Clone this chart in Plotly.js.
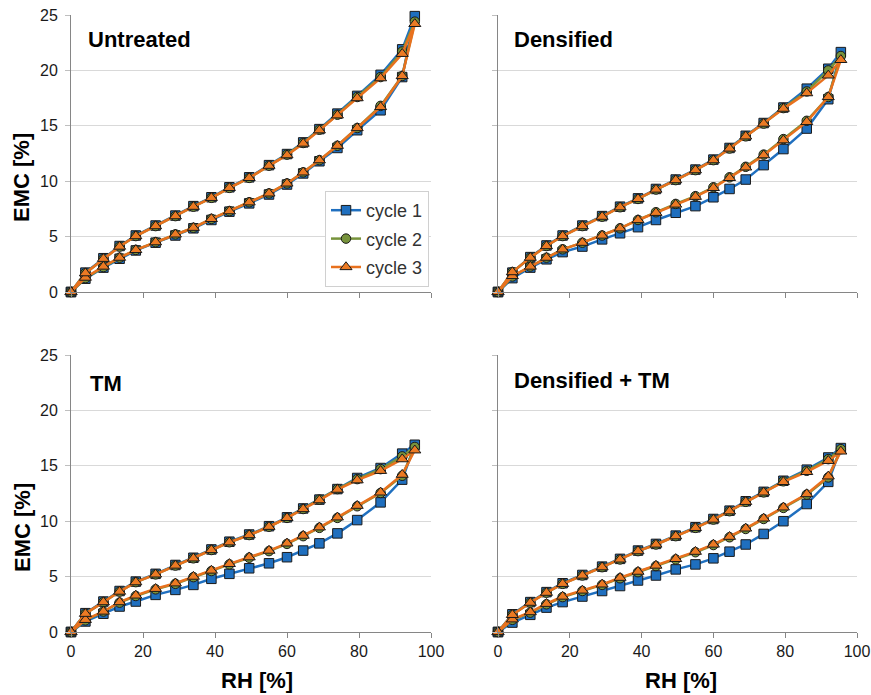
<!DOCTYPE html>
<html>
<head>
<meta charset="utf-8">
<script src="https://cdn.plot.ly/plotly-3.0.1.min.js"></script>
<style>html,body{margin:0;padding:0;background:#fff;}#chart{width:871px;height:695px;}</style>
</head>
<body>
<div id="chart"></div>
<script>
// Relative humidity steps: adsorption (0 -> 95.5) then desorption (92 -> 0)
var rhAds = [0, 4, 9, 13.5, 18, 23.5, 29, 34, 39, 44, 49.5, 55, 60, 64.5, 69, 74, 79.5, 86, 92, 95.5];
var rhDes = [92, 86, 79.5, 74, 69, 64.5, 60, 55, 49.5, 44, 39, 34, 29, 23.5, 18, 13.5, 9, 4, 0];

var cycles = ["cycle 1", "cycle 2", "cycle 3"];
var panels = ["Untreated", "Densified", "TM", "Densified + TM"];
var xTicks = [0, 20, 40, 60, 80, 100];
var yTicks = [0, 5, 10, 15, 20, 25];

// Untreated
var untreatedC1Ads = [0, 1.2, 2.2, 3.0, 3.75, 4.45, 5.1, 5.75, 6.5, 7.25, 8.0, 8.8, 9.7, 10.7, 11.8, 13.0, 14.6, 16.4, 19.4, 24.9];
var untreatedC1Des = [21.9, 19.6, 17.7, 16.1, 14.7, 13.5, 12.45, 11.45, 10.35, 9.45, 8.55, 7.75, 6.9, 6.0, 5.1, 4.15, 3.05, 1.75, 0];
var untreatedC2Ads = [0, 1.25, 2.25, 3.1, 3.8, 4.5, 5.2, 5.8, 6.6, 7.3, 8.1, 8.9, 9.8, 10.8, 11.9, 13.2, 14.8, 16.8, 19.5, 24.4];
var untreatedC2Des = [21.7, 19.4, 17.6, 16.0, 14.65, 13.45, 12.4, 11.4, 10.3, 9.4, 8.5, 7.7, 6.85, 5.95, 5.05, 4.1, 3.0, 1.7, 0];
var untreatedC3Ads = [0, 1.3, 2.3, 3.1, 3.8, 4.5, 5.2, 5.8, 6.6, 7.3, 8.1, 8.9, 9.8, 10.8, 11.9, 13.2, 14.8, 16.7, 19.5, 24.2];
var untreatedC3Des = [21.5, 19.3, 17.5, 15.95, 14.6, 13.4, 12.35, 11.4, 10.3, 9.4, 8.5, 7.7, 6.85, 5.95, 5.05, 4.1, 3.0, 1.7, 0];

// Densified
var densifiedC1Ads = [0, 1.25, 2.2, 2.95, 3.6, 4.1, 4.75, 5.3, 5.85, 6.5, 7.15, 7.75, 8.55, 9.3, 10.15, 11.45, 12.9, 14.75, 17.4, 21.65];
var densifiedC1Des = [20.15, 18.35, 16.65, 15.25, 14.1, 13.0, 11.95, 11.05, 10.15, 9.3, 8.45, 7.7, 6.85, 6.0, 5.1, 4.2, 3.15, 1.75, 0];
var densifiedC2Ads = [0, 1.4, 2.3, 3.1, 3.85, 4.45, 5.1, 5.75, 6.5, 7.2, 7.95, 8.65, 9.45, 10.35, 11.3, 12.4, 13.8, 15.45, 17.6, 21.3];
var densifiedC2Des = [20.0, 18.1, 16.6, 15.2, 14.05, 12.95, 11.9, 11.0, 10.1, 9.25, 8.4, 7.65, 6.8, 5.95, 5.05, 4.15, 3.1, 1.8, 0];
var densifiedC3Ads = [0, 1.45, 2.3, 3.1, 3.85, 4.45, 5.1, 5.75, 6.5, 7.15, 7.9, 8.6, 9.4, 10.3, 11.25, 12.35, 13.7, 15.35, 17.6, 20.95];
var densifiedC3Des = [19.55, 17.95, 16.55, 15.2, 14.05, 12.95, 11.9, 11.0, 10.1, 9.25, 8.4, 7.65, 6.8, 5.95, 5.05, 4.15, 3.1, 1.8, 0];

// TM
var tmC1Ads = [0, 0.95, 1.65, 2.3, 2.75, 3.35, 3.8, 4.25, 4.8, 5.25, 5.75, 6.2, 6.75, 7.35, 8.0, 8.9, 10.1, 11.7, 13.75, 16.9];
var tmC1Des = [16.1, 14.8, 13.9, 12.9, 11.95, 11.15, 10.35, 9.55, 8.8, 8.15, 7.45, 6.7, 6.05, 5.25, 4.55, 3.7, 2.75, 1.7, 0];
var tmC2Ads = [0, 1.05, 1.85, 2.65, 3.25, 3.85, 4.35, 4.95, 5.5, 6.1, 6.7, 7.3, 7.95, 8.65, 9.4, 10.3, 11.35, 12.55, 14.1, 16.7];
var tmC2Des = [15.85, 14.7, 13.8, 12.9, 11.95, 11.1, 10.3, 9.5, 8.75, 8.1, 7.4, 6.65, 6.0, 5.2, 4.5, 3.65, 2.7, 1.65, 0];
var tmC3Ads = [0, 1.1, 1.85, 2.7, 3.3, 3.9, 4.4, 5.0, 5.55, 6.15, 6.75, 7.35, 8.0, 8.7, 9.45, 10.35, 11.4, 12.6, 14.2, 16.4];
var tmC3Des = [15.6, 14.55, 13.7, 12.85, 11.9, 11.1, 10.3, 9.5, 8.75, 8.1, 7.4, 6.65, 6.0, 5.2, 4.5, 3.65, 2.7, 1.65, 0];

// Densified + TM
var dtmC1Ads = [0, 0.85, 1.55, 2.2, 2.7, 3.2, 3.7, 4.15, 4.65, 5.1, 5.65, 6.1, 6.65, 7.25, 7.9, 8.85, 10.0, 11.55, 13.55, 16.6];
var dtmC1Des = [15.75, 14.65, 13.65, 12.65, 11.8, 10.95, 10.2, 9.45, 8.7, 7.95, 7.35, 6.6, 5.9, 5.15, 4.4, 3.6, 2.7, 1.6, 0];
var dtmC2Ads = [0, 1.1, 1.75, 2.5, 3.15, 3.7, 4.25, 4.85, 5.4, 5.95, 6.55, 7.2, 7.85, 8.55, 9.3, 10.2, 11.2, 12.4, 13.95, 16.5];
var dtmC2Des = [15.6, 14.55, 13.6, 12.6, 11.75, 10.9, 10.15, 9.4, 8.65, 7.9, 7.3, 6.55, 5.85, 5.1, 4.35, 3.55, 2.65, 1.55, 0];
var dtmC3Ads = [0, 1.15, 1.8, 2.55, 3.2, 3.75, 4.3, 4.9, 5.45, 6.0, 6.6, 7.25, 7.9, 8.6, 9.35, 10.25, 11.25, 12.45, 14.05, 16.3];
var dtmC3Des = [15.45, 14.45, 13.55, 12.6, 11.75, 10.9, 10.15, 9.4, 8.65, 7.9, 7.3, 6.55, 5.85, 5.1, 4.35, 3.55, 2.65, 1.55, 0];

var panelData = [
  [[untreatedC1Ads, untreatedC1Des], [untreatedC2Ads, untreatedC2Des], [untreatedC3Ads, untreatedC3Des]],
  [[densifiedC1Ads, densifiedC1Des], [densifiedC2Ads, densifiedC2Des], [densifiedC3Ads, densifiedC3Des]],
  [[tmC1Ads, tmC1Des], [tmC2Ads, tmC2Des], [tmC3Ads, tmC3Des]],
  [[dtmC1Ads, dtmC1Des], [dtmC2Ads, dtmC2Des], [dtmC3Ads, dtmC3Des]]
];

var lineColors = ["#1f6fbf", "#77933c", "#e8711e"];
var fillColors = ["#1f6fbf", "#77933c", "#ec7a23"];
var symbols = ["square", "circle", "triangle-up"];
var sizes = [9.5, 9.5, 10.5];

var rhPath = rhAds.concat(rhDes);
var traces = [];
for (var p = 0; p < 4; p++) {
  for (var c = 0; c < 3; c++) {
    var ax = p === 0 ? "" : String(p + 1);
    traces.push({
      type: "scatter",
      mode: "lines+markers",
      name: cycles[c],
      legendgroup: cycles[c],
      showlegend: p === 0,
      x: rhPath,
      y: panelData[p][c][0].concat(panelData[p][c][1]),
      xaxis: "x" + ax,
      yaxis: "y" + ax,
      cliponaxis: false,
      line: {color: lineColors[c], width: 2.5},
      marker: {symbol: symbols[c], size: sizes[c], color: fillColors[c], line: {color: "#1a1a1a", width: 1}}
    });
  }
}

var W = 871, H = 695;
var colX = [[71 / W, 431 / W], [498 / W, 857 / W]];
var rowY = [[1 - 292 / H, 1 - 15 / H], [1 - 632 / H, 1 - 355 / H]];

function xAxis(anchor, dom, showLabels) {
  return {
    domain: dom, anchor: anchor, range: [0, 100], tickvals: xTicks, ticktext: xTicks.map(String),
    showticklabels: showLabels, ticks: "outside", ticklen: 5, tickcolor: "#868686", tickwidth: 1,
    showline: true, linecolor: "#868686", linewidth: 1, showgrid: false, zeroline: false,
    tickfont: {family: "Liberation Sans, Arial, sans-serif", size: 16, color: "#1a1a1a"}
  };
}
function yAxis(anchor, dom, showLabels) {
  return {
    domain: dom, anchor: anchor, range: [0, 25], tickvals: yTicks, ticktext: yTicks.map(String),
    showticklabels: showLabels, ticks: "outside", ticklen: 5, tickcolor: "#bfbfbf", tickwidth: 1,
    showline: true, linecolor: "#868686", linewidth: 1, showgrid: true, gridcolor: "#d9d9d9", gridwidth: 1,
    zeroline: false, ticklabelstandoff: 4,
    tickfont: {family: "Liberation Sans, Arial, sans-serif", size: 16, color: "#1a1a1a"}
  };
}

var labelFont = {family: "Liberation Sans, Arial, sans-serif", size: 22, color: "#000", weight: "bold"};
var panelPos = [[86, 40], [512, 40], [88, 383], [512, 380]];
var annotations = [];
for (var i = 0; i < 4; i++) {
  annotations.push({text: panels[i], xref: "paper", yref: "paper", x: panelPos[i][0] / W, y: 1 - panelPos[i][1] / H,
    xanchor: "left", yanchor: "middle", showarrow: false, font: labelFont});
}
annotations.push({text: "EMC [%]", textangle: -90, xref: "paper", yref: "paper", x: 22 / W, y: 1 - 178 / H, xanchor: "center", yanchor: "middle", showarrow: false, font: labelFont});
annotations.push({text: "EMC [%]", textangle: -90, xref: "paper", yref: "paper", x: 22 / W, y: 1 - 528 / H, xanchor: "center", yanchor: "middle", showarrow: false, font: labelFont});
annotations.push({text: "RH [%]", xref: "paper", yref: "paper", x: 257 / W, y: 1 - 680 / H, xanchor: "center", yanchor: "middle", showarrow: false, font: labelFont});
annotations.push({text: "RH [%]", xref: "paper", yref: "paper", x: 681 / W, y: 1 - 680 / H, xanchor: "center", yanchor: "middle", showarrow: false, font: labelFont});

var layout = {
  width: W, height: H,
  margin: {l: 0, r: 0, t: 0, b: 0},
  paper_bgcolor: "#ffffff", plot_bgcolor: "#ffffff",
  font: {family: "Liberation Sans, Arial, sans-serif", color: "#1a1a1a"},
  showlegend: true,
  legend: {x: 325 / W, y: 1 - 191 / H, xanchor: "left", yanchor: "top", bgcolor: "#ffffff",
    bordercolor: "#d0d0d0", borderwidth: 1, font: {size: 18, color: "#333"}, tracegroupgap: 2},
  xaxis: xAxis("y", colX[0], false), yaxis: yAxis("x", rowY[0], true),
  xaxis2: xAxis("y2", colX[1], false), yaxis2: yAxis("x2", rowY[0], false),
  xaxis3: xAxis("y3", colX[0], true), yaxis3: yAxis("x3", rowY[1], true),
  xaxis4: xAxis("y4", colX[1], true), yaxis4: yAxis("x4", rowY[1], false),
  annotations: annotations
};

Plotly.newPlot("chart", traces, layout, {displayModeBar: false, staticPlot: true});
</script>
</body>
</html>
